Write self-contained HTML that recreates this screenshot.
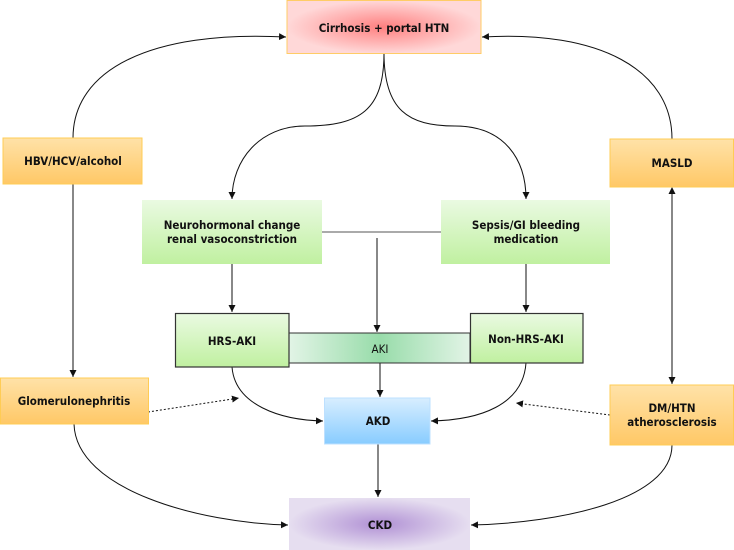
<!DOCTYPE html>
<html><head><meta charset="utf-8"><style>
body{margin:0;background:#fff}
svg{display:block}
text{font-family:"DejaVu Sans Condensed","DejaVu Sans","Liberation Sans",sans-serif;font-weight:bold;font-size:11.5px;fill:#111;text-anchor:middle}
</style></head><body>
<svg width="734" height="550" viewBox="0 0 734 550" xmlns="http://www.w3.org/2000/svg">
<defs>
<radialGradient id="red" cx="50%" cy="50%" r="50%"><stop offset="0" stop-color="#ff8080"/><stop offset="1" stop-color="#ffd8d8"/></radialGradient>
<linearGradient id="org" x1="0" y1="0" x2="0" y2="1"><stop offset="0" stop-color="#ffe2a8"/><stop offset="1" stop-color="#ffc866"/></linearGradient>
<linearGradient id="grn" x1="0" y1="0" x2="0" y2="1"><stop offset="0" stop-color="#eafae2"/><stop offset="1" stop-color="#c0f0a0"/></linearGradient>
<linearGradient id="aki" x1="0" y1="0" x2="1" y2="0"><stop offset="0" stop-color="#e2f4e6"/><stop offset="0.5" stop-color="#98dcaa"/><stop offset="1" stop-color="#e2f4e6"/></linearGradient>
<linearGradient id="blu" x1="0" y1="0" x2="0" y2="1"><stop offset="0" stop-color="#d8eeff"/><stop offset="1" stop-color="#88ccff"/></linearGradient>
<radialGradient id="pur" cx="50%" cy="50%" r="50%"><stop offset="0" stop-color="#b090d4"/><stop offset="1" stop-color="#e6def0"/></radialGradient>
<marker id="a" markerWidth="8" markerHeight="8" refX="7" refY="4" orient="auto" markerUnits="userSpaceOnUse"><path d="M0,0.5 L7,4 L0,7.5 z" fill="#111"/></marker>
<marker id="as" markerWidth="8" markerHeight="8" refX="1" refY="4" orient="auto" markerUnits="userSpaceOnUse"><path d="M7,0.5 L0,4 L7,7.5 z" fill="#111"/></marker>
</defs>
<g fill="none" stroke="#111" stroke-width="1">
<path d="M73,138 C73,70 150,30 286,37" marker-end="url(#a)"/>
<path d="M672,139 C672,70 600,30 482,37" marker-end="url(#a)"/>
<path d="M384,53 C384,110 360,126 305,126 C260,126 232,160 232,199" marker-end="url(#a)"/>
<path d="M384,53 C384,110 408,126 455,126 C505,126 526,160 526,199" marker-end="url(#a)"/>
<path d="M322,232 H441" stroke="#555"/>
<path d="M377,238 V332" marker-end="url(#a)"/>
<path d="M232,264 V312" marker-end="url(#a)"/>
<path d="M526,264 V312" marker-end="url(#a)"/>
<path d="M73,184 V377" marker-end="url(#a)"/>
<path d="M672,188 V384" marker-start="url(#as)" marker-end="url(#a)"/>
<path d="M380,363 V397" marker-end="url(#a)"/>
<path d="M232,367 C235,405 280,420 323,421" marker-end="url(#a)"/>
<path d="M526,363 C523,405 480,420 431,421" marker-end="url(#a)"/>
<path d="M148,412 L239,398" stroke-dasharray="2,2" marker-end="url(#a)"/>
<path d="M610,415 L516,403" stroke-dasharray="2,2" marker-end="url(#a)"/>
<path d="M378,444 V497" marker-end="url(#a)"/>
<path d="M74,424 C76,490 200,523 288,525" marker-end="url(#a)"/>
<path d="M672,445 C672,500 560,523 471,525" marker-end="url(#a)"/>
</g>
<rect x="287" y="0.5" width="194" height="53" fill="url(#red)" stroke="#ffcc66"/>
<text x="384" y="32" font-size="12.5">Cirrhosis + portal HTN</text>
<rect x="3" y="138" width="139" height="46" fill="url(#org)" stroke="#ffcc55"/>
<text x="73" y="165">HBV/HCV/alcohol</text>
<rect x="610" y="139" width="123.5" height="48" fill="url(#org)" stroke="#ffcc55"/>
<text x="672" y="167">MASLD</text>
<rect x="142" y="200" width="180" height="64" fill="url(#grn)"/>
<text x="232" y="229">Neurohormonal change</text>
<text x="232" y="243">renal vasoconstriction</text>
<rect x="441" y="200" width="169" height="64" fill="url(#grn)"/>
<text x="526" y="229">Sepsis/GI bleeding</text>
<text x="526" y="243">medication</text>
<rect x="289" y="333" width="181" height="30" fill="url(#aki)" stroke="#333"/>
<text x="380" y="353" style="font-weight:normal" font-size="13">AKI</text>
<rect x="175.5" y="313.5" width="113.5" height="53.5" fill="url(#grn)" stroke="#333" stroke-width="1.2"/>
<text x="232" y="345">HRS-AKI</text>
<rect x="470.5" y="313.5" width="112.5" height="49.5" fill="url(#grn)" stroke="#333" stroke-width="1.2"/>
<text x="526" y="343">Non-HRS-AKI</text>
<rect x="0.5" y="378" width="148" height="46" fill="url(#org)" stroke="#ffcc55"/>
<text x="74" y="405">Glomerulonephritis</text>
<rect x="610" y="385" width="123.5" height="60" fill="url(#org)" stroke="#ffcc55"/>
<text x="672" y="412">DM/HTN</text>
<text x="672" y="426">atherosclerosis</text>
<rect x="324.5" y="398" width="105.5" height="46" fill="url(#blu)" stroke="#bde0ff"/>
<text x="378" y="425">AKD</text>
<rect x="289" y="498" width="181" height="52" fill="url(#pur)"/>
<text x="380" y="529" font-size="12.5">CKD</text>
</svg>
</body></html>
